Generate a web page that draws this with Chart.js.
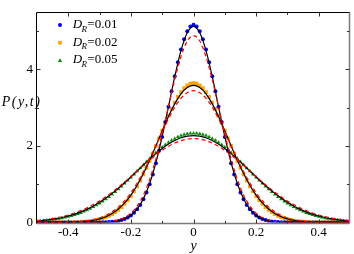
<!DOCTYPE html>
<html>
<head>
<meta charset="utf-8">
<script src="https://cdn.jsdelivr.net/npm/chart.js@4.4.0/dist/chart.umd.min.js"></script>
<style>
html, body { margin: 0; padding: 0; background: #fff; }
#wrap { position: relative; width: 354px; height: 254px; }
</style>
</head>
<body>
<div id="wrap"><canvas id="myChart"></canvas></div>
<script>
// positions of the simulated points (0.01 apart) and of the fitted curves (0.02 apart)
var yPos = [-0.50,-0.49,-0.48,-0.47,-0.46,-0.45,-0.44,-0.43,-0.42,-0.41,-0.40,-0.39,-0.38,-0.37,-0.36,-0.35,-0.34,-0.33,-0.32,-0.31,-0.30,-0.29,-0.28,-0.27,-0.26,-0.25,-0.24,-0.23,-0.22,-0.21,-0.20,-0.19,-0.18,-0.17,-0.16,-0.15,-0.14,-0.13,-0.12,-0.11,-0.10,-0.09,-0.08,-0.07,-0.06,-0.05,-0.04,-0.03,-0.02,-0.01,0.00,0.01,0.02,0.03,0.04,0.05,0.06,0.07,0.08,0.09,0.10,0.11,0.12,0.13,0.14,0.15,0.16,0.17,0.18,0.19,0.20,0.21,0.22,0.23,0.24,0.25,0.26,0.27,0.28,0.29,0.30,0.31,0.32,0.33,0.34,0.35,0.36,0.37,0.38,0.39,0.40,0.41,0.42,0.43,0.44,0.45,0.46,0.47,0.48,0.49,0.50];
var yFit = [-0.50,-0.48,-0.46,-0.44,-0.42,-0.40,-0.38,-0.36,-0.34,-0.32,-0.30,-0.28,-0.26,-0.24,-0.22,-0.20,-0.18,-0.16,-0.14,-0.12,-0.10,-0.08,-0.06,-0.04,-0.02,0.00,0.02,0.04,0.06,0.08,0.10,0.12,0.14,0.16,0.18,0.20,0.22,0.24,0.26,0.28,0.30,0.32,0.34,0.36,0.38,0.40,0.42,0.44,0.46,0.48,0.50];

// D_R = 0.01
var simA = [0,0,0,0,0,0,0,0,0,0,0,0,0,0,0,0,0,0.001,0.001,0.002,0.003,0.005,0.007,0.012,0.018,0.028,0.042,0.062,0.090,0.129,0.182,0.252,0.343,0.460,0.606,0.786,1.001,1.255,1.547,1.875,2.235,2.621,3.021,3.425,3.818,4.186,4.514,4.786,4.990,5.117,5.160,5.117,4.990,4.786,4.514,4.186,3.818,3.425,3.021,2.621,2.235,1.875,1.547,1.255,1.001,0.786,0.606,0.460,0.343,0.252,0.182,0.129,0.090,0.062,0.042,0.028,0.018,0.012,0.007,0.005,0.003,0.002,0.001,0.001,0,0,0,0,0,0,0,0,0,0,0,0,0,0,0,0,0];
var fitA = [0,0,0,0,0,0,0,0,0,0.001,0.003,0.008,0.020,0.045,0.095,0.190,0.355,0.622,1.019,1.564,2.247,3.023,3.807,4.488,4.954,5.120,4.954,4.488,3.807,3.023,2.247,1.564,1.019,0.622,0.355,0.190,0.095,0.045,0.020,0.008,0.003,0.001,0,0,0,0,0,0,0,0,0];
var apxA = [0,0,0,0,0,0,0,0,0.001,0.002,0.006,0.014,0.031,0.066,0.131,0.245,0.432,0.719,1.126,1.662,2.310,3.023,3.728,4.329,4.736,4.880,4.736,4.329,3.728,3.023,2.310,1.662,1.126,0.719,0.432,0.245,0.131,0.066,0.031,0.014,0.006,0.002,0.001,0,0,0,0,0,0,0,0];

// D_R = 0.02
var simB = [0,0,0,0,0.001,0.001,0.001,0.002,0.002,0.003,0.005,0.006,0.009,0.012,0.017,0.022,0.030,0.039,0.051,0.067,0.086,0.110,0.139,0.175,0.218,0.270,0.331,0.403,0.486,0.581,0.689,0.810,0.945,1.093,1.254,1.427,1.610,1.801,1.999,2.200,2.401,2.598,2.789,2.968,3.133,3.280,3.405,3.506,3.580,3.625,3.640,3.625,3.580,3.506,3.405,3.280,3.133,2.968,2.789,2.598,2.401,2.200,1.999,1.801,1.610,1.427,1.254,1.093,0.945,0.810,0.689,0.581,0.486,0.403,0.331,0.270,0.218,0.175,0.139,0.110,0.086,0.067,0.051,0.039,0.030,0.022,0.017,0.012,0.009,0.006,0.005,0.003,0.002,0.002,0.001,0.001,0.001,0,0,0,0];
var fitB = [0,0,0.001,0.001,0.003,0.006,0.011,0.019,0.034,0.058,0.095,0.152,0.235,0.352,0.510,0.715,0.971,1.277,1.626,2.005,2.393,2.767,3.097,3.357,3.523,3.580,3.523,3.357,3.097,2.767,2.393,2.005,1.626,1.277,0.971,0.715,0.510,0.352,0.235,0.152,0.095,0.058,0.034,0.019,0.011,0.006,0.003,0.001,0.001,0,0];
var apxB = [0,0.001,0.001,0.003,0.005,0.009,0.016,0.028,0.047,0.076,0.121,0.187,0.279,0.404,0.569,0.777,1.031,1.328,1.660,2.014,2.372,2.712,3.009,3.241,3.389,3.440,3.389,3.241,3.009,2.712,2.372,2.014,1.660,1.328,1.031,0.777,0.569,0.404,0.279,0.187,0.121,0.076,0.047,0.028,0.016,0.009,0.005,0.003,0.001,0.001,0];

// D_R = 0.05
var simC = [0.033,0.039,0.046,0.054,0.063,0.074,0.086,0.100,0.115,0.133,0.152,0.174,0.199,0.226,0.255,0.288,0.324,0.364,0.406,0.452,0.502,0.555,0.612,0.672,0.736,0.802,0.872,0.945,1.021,1.098,1.178,1.259,1.341,1.423,1.506,1.587,1.668,1.747,1.823,1.896,1.965,2.029,2.089,2.143,2.191,2.233,2.267,2.295,2.314,2.326,2.330,2.326,2.314,2.295,2.267,2.233,2.191,2.143,2.089,2.029,1.965,1.896,1.823,1.747,1.668,1.587,1.506,1.423,1.341,1.259,1.178,1.098,1.021,0.945,0.872,0.802,0.736,0.672,0.612,0.555,0.502,0.452,0.406,0.364,0.324,0.288,0.255,0.226,0.199,0.174,0.152,0.133,0.115,0.100,0.086,0.074,0.063,0.054,0.046,0.039,0.033];
var fitC = [0.040,0.054,0.074,0.099,0.131,0.170,0.219,0.278,0.349,0.433,0.529,0.638,0.760,0.893,1.037,1.188,1.343,1.500,1.653,1.798,1.931,2.047,2.141,2.212,2.255,2.270,2.255,2.212,2.141,2.047,1.931,1.798,1.653,1.500,1.343,1.188,1.037,0.893,0.760,0.638,0.529,0.433,0.349,0.278,0.219,0.170,0.131,0.099,0.074,0.054,0.040];
var apxC = [0.051,0.068,0.090,0.118,0.153,0.196,0.249,0.311,0.384,0.468,0.564,0.672,0.791,0.919,1.056,1.199,1.344,1.489,1.630,1.763,1.884,1.989,2.074,2.138,2.177,2.190,2.177,2.138,2.074,1.989,1.884,1.763,1.630,1.489,1.344,1.199,1.056,0.919,0.791,0.672,0.564,0.468,0.384,0.311,0.249,0.196,0.153,0.118,0.090,0.068,0.051];

var legendText = ['=0.01', '=0.02', '=0.05'];
var xTicks = [-0.4, -0.2, 0, 0.2, 0.4];
var xMinor = [-0.3, -0.1, 0.1, 0.3];
var yTicks = [0, 2, 4];
var yMinor = [1, 3, 5];

var blue = '#0000ff';
var orange = '#ffa500';
var green = '#0a8a0a';
var serif = '"Liberation Serif"';

function toPoints(xs, ys) {
    var out = [];
    for (let i = 0; i < xs.length; i++) {
        out.push({ x: xs[i], y: ys[i] });
    }
    return out;
}

function markerSet(ys, color, style, r, order) {
    return {
        data: toPoints(yPos, ys),
        showLine: false,
        pointStyle: style,
        pointRadius: r,
        pointBackgroundColor: color,
        pointBorderWidth: 0,
        order: order
    };
}

function curveSet(ys, color, dash, order) {
    return {
        data: toPoints(yFit, ys),
        showLine: true,
        borderColor: color,
        borderWidth: 1.2,
        borderDash: dash,
        pointRadius: 0,
        tension: 0.4,
        cubicInterpolationMode: 'monotone',
        order: order
    };
}

function drawMarker(ctx, style, x, y, r, color) {
    ctx.fillStyle = color;
    ctx.beginPath();
    if (style === 'circle') {
        ctx.arc(x, y, r, 0, Math.PI * 2);
    } else if (style === 'rect') {
        var s = r * Math.SQRT1_2;
        ctx.rect(x - s, y - s, 2 * s, 2 * s);
    } else {
        ctx.moveTo(x, y - r);
        ctx.lineTo(x + r * 0.95, y + r * 0.6);
        ctx.lineTo(x - r * 0.95, y + r * 0.6);
        ctx.closePath();
    }
    ctx.fill();
}

// frame, inward ticks, legend and axis titles
var decorations = {
    id: 'decorations',
    afterDatasetsDraw(chart) {
        var ctx = chart.ctx;
        var a = chart.chartArea;
        var xs = chart.scales.x;
        var ys = chart.scales.y;
        var L = Math.round(a.left) - 0.5, R = Math.round(a.right) - 0.5;
        var T = Math.round(a.top) + 0.5, B = Math.round(a.bottom) + 0.5;
        ctx.save();

        ctx.strokeStyle = '#7a7a7a';
        ctx.lineWidth = 1.5;
        ctx.beginPath();
        ctx.moveTo(L, B); ctx.lineTo(R, B);
        ctx.moveTo(R, T); ctx.lineTo(R, B);
        ctx.stroke();
        ctx.lineWidth = 1;
        ctx.strokeStyle = '#000';
        ctx.beginPath();
        ctx.moveTo(L, T); ctx.lineTo(R, T);
        ctx.moveTo(L, T); ctx.lineTo(L, B);
        ctx.stroke();

        ctx.strokeStyle = '#333';
        ctx.beginPath();
        function xt(v, len) {
            var px = Math.round(xs.getPixelForValue(v)) + 0.5;
            ctx.moveTo(px, B); ctx.lineTo(px, B - len);
            ctx.moveTo(px, T); ctx.lineTo(px, T + len);
        }
        function yt(v, len) {
            var py = Math.round(ys.getPixelForValue(v)) + 0.5;
            ctx.moveTo(L, py); ctx.lineTo(L + len, py);
            ctx.moveTo(R, py); ctx.lineTo(R - len, py);
        }
        xTicks.forEach(v => xt(v, 4));
        xMinor.forEach(v => xt(v, 2.5));
        yTicks.forEach(v => { if (v > 0) yt(v, 4); });
        yMinor.forEach(v => yt(v, 2.5));
        ctx.stroke();

        // legend
        var styles = ['circle', 'rect', 'triangle'];
        var colors = [blue, orange, green];
        var radii = [2, 2.6, 2.3];
        for (let i = 0; i < 3; i++) {
            var base = 27.7 + i * 17.8;
            drawMarker(ctx, styles[i], 60, base - 2.8, radii[i], colors[i]);
            ctx.fillStyle = '#000';
            ctx.textBaseline = 'alphabetic';
            ctx.textAlign = 'left';
            ctx.font = 'italic 13px ' + serif;
            ctx.fillText('D', 72.7, base);
            ctx.font = 'italic 9px ' + serif;
            ctx.fillText('R', 81.6, base + 3.8);
            ctx.font = '13px ' + serif;
            ctx.fillText(legendText[i], 87.3, base);
        }

        // axis titles
        ctx.font = 'italic 14px ' + serif;
        ctx.letterSpacing = '1.5px';
        ctx.fillText('P(y,t)', 1.7, 106);
        ctx.letterSpacing = '0px';
        ctx.textAlign = 'center';
        ctx.fillText('y', xs.getPixelForValue(0), 249.5);
        ctx.restore();
    }
};

function makeChart() {
    var ctx = document.getElementById('myChart');
    return new Chart(ctx, {
        type: 'scatter',
        data: {
            datasets: [
                curveSet(apxA, '#ff0000', [4, 3], 0),
                curveSet(apxB, '#ff0000', [4, 3], 0),
                curveSet(apxC, '#ff0000', [4, 3], 0),
                curveSet(fitA, '#000000', [], 1),
                curveSet(fitB, '#000000', [], 1),
                curveSet(fitC, '#000000', [], 1),
                markerSet(simA, blue, 'circle', 2, 2),
                markerSet(simB, orange, 'rect', 2.6, 3),
                markerSet(simC, green, 'triangle', 2.3, 4)
            ]
        },
        options: {
            responsive: true,
            maintainAspectRatio: false,
            animation: false,
            events: [],
            layout: { padding: { top: 2.5, right: 1.5, left: 0, bottom: 0 } },
            plugins: {
                legend: { display: false },
                tooltip: { enabled: false },
                title: { display: false }
            },
            scales: {
                x: {
                    type: 'linear',
                    min: -0.5,
                    max: 0.5,
                    afterBuildTicks: function (s) { s.ticks = xTicks.map(v => ({ value: v })); },
                    afterFit: function (s) { s.height = 31.5; },
                    grid: { display: false, drawTicks: false },
                    border: { display: false },
                    ticks: {
                        color: '#000',
                        font: { family: serif, size: 13 },
                        padding: 2,
                        maxRotation: 0,
                        autoSkip: false,
                        callback: v => (v === 0 ? '0' : v.toFixed(1))
                    }
                },
                y: {
                    type: 'linear',
                    min: 0,
                    max: 5.5,
                    afterBuildTicks: function (s) { s.ticks = yTicks.map(v => ({ value: v })); },
                    afterFit: function (s) { s.width = 37; },
                    grid: { display: false, drawTicks: false },
                    border: { display: false },
                    ticks: {
                        color: '#000',
                        font: { family: serif, size: 13 },
                        padding: 4,
                        callback: v => String(v)
                    }
                }
            }
        },
        plugins: [decorations]
    });
}

Chart.defaults.font.family = serif;
Promise.all([
    document.fonts.load('13px "Liberation Serif"'),
    document.fonts.load('italic 13px "Liberation Serif"')
]).then(makeChart, makeChart);
</script>
</body>
</html>
